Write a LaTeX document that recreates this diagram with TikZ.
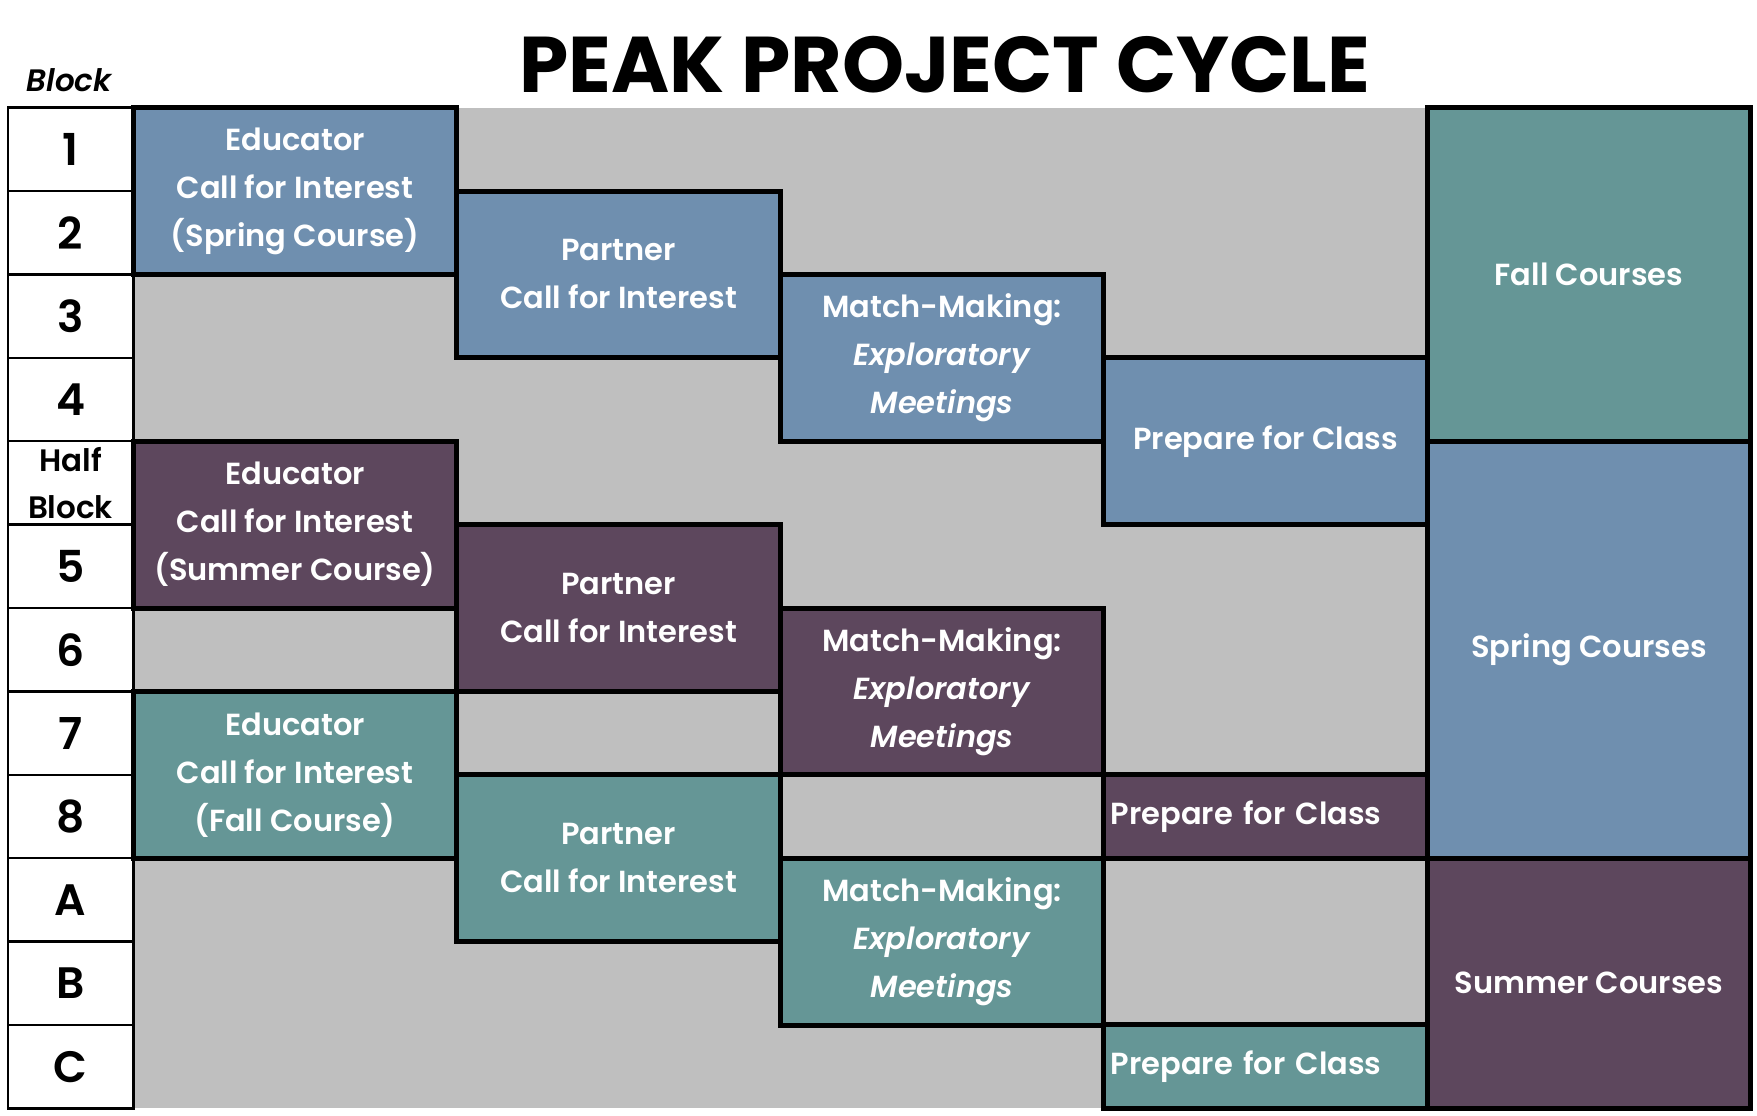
\documentclass[tikz,border=0pt]{standalone}
\usepackage{fontspec}
\setmainfont{Poppins}[BoldFont={Poppins SemiBold}, BoldItalicFont={Poppins SemiBold Italic}]
\newfontfamily\titlefont{Poppins Bold}
\definecolor{springblue}{RGB}{111,143,175}
\definecolor{summerplum}{RGB}{93,71,93}
\definecolor{fallteal}{RGB}{101,150,150}
\definecolor{slotgrey}{RGB}{191,191,191}
\usepackage{tikz}
\usetikzlibrary{positioning}

\begin{document}
\begin{tikzpicture}[
    x=1pt, y=-1pt,
    stage/.style={draw=black, line width=5pt, minimum width=323.5pt,
      inner sep=0pt, outer sep=0pt, anchor=north west, text=white,
      font=\fontsize{30.5}{48}\selectfont\bfseries, align=center},
    rows/.style={minimum height=#1*83.4pt},
    leftstage/.style={stage, align=left, text width=309.5pt, inner xsep=7pt},
    cell/.style={draw=black, line width=2.5pt, fill=white, minimum width=125.5pt,
      minimum height=83.4pt, inner sep=0pt, outer sep=0pt,
      font=\fontsize{44}{48}\selectfont\bfseries},
    node distance=0pt,
  ]
    \useasboundingbox (0,0) rectangle (1757,1116);
    \fill[slotgrey] (133.3,107.6) rectangle (1427.3,1108);

    % headings
    \node[font=\titlefont\fontsize{79}{85}\selectfont] (title) at (944.6,65) {PEAK PROJECT CYCLE};
    \node[font=\fontsize{31}{33}\selectfont\bfseries\itshape] (blockhead) at (69,80) {Block};

    % block column
    \node[cell, anchor=north west] (b1) at (7.8,107.6) {1};
    \node[cell, below=of b1] (b2) {2};
    \node[cell, below=of b2] (b3) {3};
    \node[cell, below=of b3] (b4) {4};
    \node[cell, below=of b4, align=center, font=\fontsize{31}{47}\selectfont\bfseries] (bhalf) {Half\\Block};
    \node[cell, below=of bhalf] (b5) {5};
    \node[cell, below=of b5] (b6) {6};
    \node[cell, below=of b6] (b7) {7};
    \node[cell, below=of b7] (b8) {8};
    \node[cell, below=of b8] (bA) {A};
    \node[cell, below=of bA] (bB) {B};
    \node[cell, below=of bB] (bC) {C};

    % spring course
    \node[stage, rows=2, fill=springblue] (eduspring) at (133.3,107.6) {Educator\\Call for Interest\\(Spring Course)};
    \node[stage, rows=2, fill=springblue] (partspring) at (456.8,191) {Partner\\Call for Interest};
    \node[stage, rows=2, fill=springblue] (matchspring) at (780.3,274.4) {Match-Making:\\\textit{Exploratory}\\\textit{Meetings}};
    \node[stage, rows=2, fill=springblue] (prepspring) at (1103.8,357.8) {Prepare for Class};

    % summer course
    \node[stage, rows=2, fill=summerplum] (edusummer) at (133.3,441.2) {Educator\\Call for Interest\\(Summer Course)};
    \node[stage, rows=2, fill=summerplum] (partsummer) at (456.8,524.6) {Partner\\Call for Interest};
    \node[stage, rows=2, fill=summerplum] (matchsummer) at (780.3,608) {Match-Making:\\\textit{Exploratory}\\\textit{Meetings}};
    \node[leftstage, rows=1, fill=summerplum] (prepsummer) at (1103.8,774.8) {Prepare for Class};

    % fall course
    \node[stage, rows=2, fill=fallteal] (edufall) at (133.3,691.4) {Educator\\Call for Interest\\(Fall Course)};
    \node[stage, rows=2, fill=fallteal] (partfall) at (456.8,774.8) {Partner\\Call for Interest};
    \node[stage, rows=2, fill=fallteal] (matchfall) at (780.3,858.2) {Match-Making:\\\textit{Exploratory}\\\textit{Meetings}};
    \node[leftstage, rows=1, fill=fallteal] (prepfall) at (1103.8,1024.6) {Prepare for Class};

    % terms
    \node[stage, rows=4, fill=fallteal] (fallterm) at (1427.3,107.6) {Fall Courses};
    \node[stage, rows=5, fill=springblue] (springterm) at (1427.3,441.2) {Spring Courses};
    \node[stage, rows=3, fill=summerplum] (summerterm) at (1427.3,858.2) {Summer Courses};
  \end{tikzpicture}
\end{document}
